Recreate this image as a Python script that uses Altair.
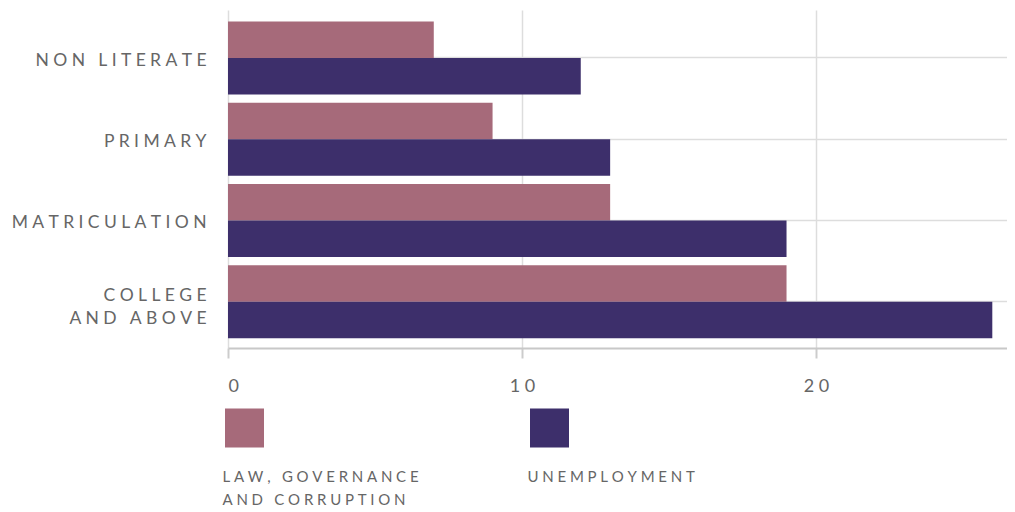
import altair as alt
import pandas as pd

categories = ["NON LITERATE", "PRIMARY", "MATRICULATION", "COLLEGE\nAND ABOVE"]
series = ["LAW, GOVERNANCE\nAND CORRUPTION", "UNEMPLOYMENT"]
law = [7, 9, 13, 19]
unemployment = [12, 13, 19, 26]
colors = ["#a66a7a", "#3d2f6b"]
x_ticks = [0, 10, 20]

rows = []
for i, c in enumerate(categories):
    rows.append({"category": c, "series": series[0], "value": law[i]})
    rows.append({"category": c, "series": series[1], "value": unemployment[i]})
df = pd.DataFrame(rows)
leg_df = pd.DataFrame({"series": series})

SP = "\u2005"


def spaced(field, sp=SP):
    return (f"split(replace(join(split({field}, ''), '{sp}'), "
            f"'{sp}\\n{sp}', '\\n'), '\\n')")


FONT = "Lato"
TXT = "#666666"
color_scale = alt.Scale(domain=series, range=colors)

bars = alt.Chart(df).mark_bar().encode(
    y=alt.Y("category:N", sort=categories,
            scale=alt.Scale(paddingInner=0.1, paddingOuter=0.13, align=0.54),
            axis=alt.Axis(title=None, labelExpr=spaced("datum.label"), grid=True,
                          bandPosition=0.5, ticks=False, domain=False,
                          labelPadding=22, labelFontSize=17.5, labelColor=TXT,
                          labelFont=FONT, gridColor="#dddddd", gridWidth=1.5,
                          labelLineHeight=23, labelLimit=0,
                          labelOffset={"condition": {"test": "indexof(datum.value, '\\n') >= 0",
                                                     "value": -5.5},
                                       "value": 3})),
    yOffset=alt.YOffset("series:N", sort=series,
                        scale=alt.Scale(paddingInner=0, paddingOuter=0)),
    x=alt.X("value:Q", scale=alt.Scale(domain=[0, 26.5], nice=False),
            axis=alt.Axis(title=None, values=x_ticks, labelExpr=spaced("datum.label"),
                          grid=True, gridColor="#dddddd", gridWidth=1.5,
                          tickSize=10, tickColor="#cccccc", tickWidth=2,
                          domainColor="#c8c8c8", domainWidth=2,
                          labelPadding=19, labelFontSize=18, labelColor=TXT,
                          labelFont=FONT)),
    color=alt.Color("series:N", scale=color_scale, legend=None),
).properties(width=779, height=338)

leg_x = alt.X("series:N", sort=series,
              scale=alt.Scale(type="point", domain=series, range=[16.5, 321.5],
                              padding=0),
              axis=None)
squares = alt.Chart(leg_df).mark_square(size=1521, opacity=1).encode(
    x=leg_x,
    color=alt.Color("series:N", scale=color_scale, legend=None),
)
texts = alt.Chart(leg_df).transform_calculate(
    lbl=spaced("datum.series")
).mark_text(align="left", baseline="top", dx=-22, dy=42, fontSize=15,
            font=FONT, color=TXT, lineHeight=23).encode(
    x=leg_x, text="lbl:N")
legend = (squares + texts).properties(width=779, height=40)

chart = alt.vconcat(bars, legend, spacing=13).properties(
    padding={"left": 3, "top": 2, "right": 0, "bottom": 0}
).configure_view(stroke=None)

chart.save("out.html", embed_options={"renderer": "svg", "actions": False})
